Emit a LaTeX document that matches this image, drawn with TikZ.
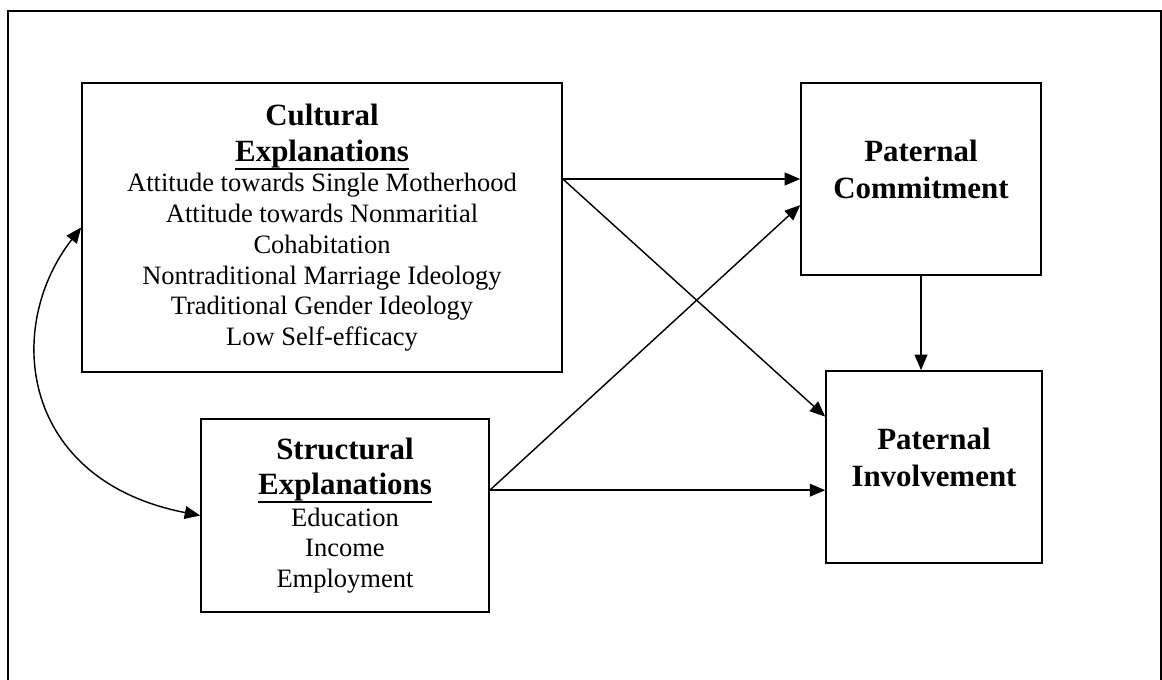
\documentclass[tikz,border=0pt]{standalone}
\usepackage{fontspec}
\setmainfont{Liberation Serif}
\usetikzlibrary{arrows.meta,calc}

\newcommand{\boxhead}[1]{{\fontsize{14}{16.3}\selectfont\bfseries #1}}
\newcommand{\thickul}[1]{\vtop{\hbox{#1}\kern0.2pt\hrule height 0.9pt}}

\begin{document}
\begin{tikzpicture}[
  x=0.4525pt, y=-0.4525pt,
  font=\fontsize{12}{13.9}\selectfont,
  >={Triangle[length=7pt,width=5.8pt]},
  box/.style={draw, line width=0.75pt, align=center, inner sep=0pt},
  boxtext/.style={align=center, inner sep=0pt},
  link/.style={->, line width=0.65pt},
]
  \useasboundingbox (0,0) rectangle (1162,679);
  \clip (0,0) rectangle (1162,679);

  % Outer frame
  \draw[line width=1pt] (8,11) rectangle (1161,700);

  % Explanation boxes
  \node[box, minimum width=217.2pt, minimum height=130.8pt] (cult) at (322,227.5)
    {\boxhead{Cultural}\\[2.4pt]
     \boxhead{\thickul{Explanations}}\\
     Attitude towards Single Motherhood\\
     Attitude towards Nonmaritial\\
     Cohabitation\\
     Nontraditional Marriage Ideology\\
     Traditional Gender Ideology\\
     Low Self-efficacy};
  \node[box, minimum width=130.3pt, minimum height=87.3pt] (struct) at (345,515.5)
    {\boxhead{Structural}\\[1.9pt]
     \boxhead{\thickul{Explanations}}\\[0.6pt]
     Education\\
     Income\\
     Employment};

  % Outcome boxes
  \node[box, minimum width=108.6pt, minimum height=86.9pt] (comm) at (921,179) {};
  \node[boxtext] (commtext) at ([yshift=4.5pt]comm.center)
    {\boxhead{Paternal}\\[2.8pt] \boxhead{Commitment}};
  \node[box, minimum width=97.7pt, minimum height=86.9pt] (inv) at (934,467) {};
  \node[boxtext] (invtext) at ([yshift=4.5pt]inv.center)
    {\boxhead{Paternal}\\[2.8pt] \boxhead{Involvement}};

  % Paths
  \coordinate (cultout) at (cult.east |- comm.west);
  \coordinate (structout) at ($(struct.north east)!0.37!(struct.south east)$);
  \draw[link] (cultout) -- (comm.west);
  \draw[link] (cultout) -- ($(inv.north west)!0.24!(inv.south west)$);
  \draw[link] (structout) -- ($(comm.north west)!0.635!(comm.south west)$);
  \draw[link] (structout) -- (structout -| inv.west);
  \draw[link] (comm.south) -- (comm.south |- inv.north);

  % Correlation
  \draw[<->, line width=0.65pt] (cult.west)
    .. controls +(-78,100) and +(-180,-35) .. (struct.west);
\end{tikzpicture}
\end{document}
